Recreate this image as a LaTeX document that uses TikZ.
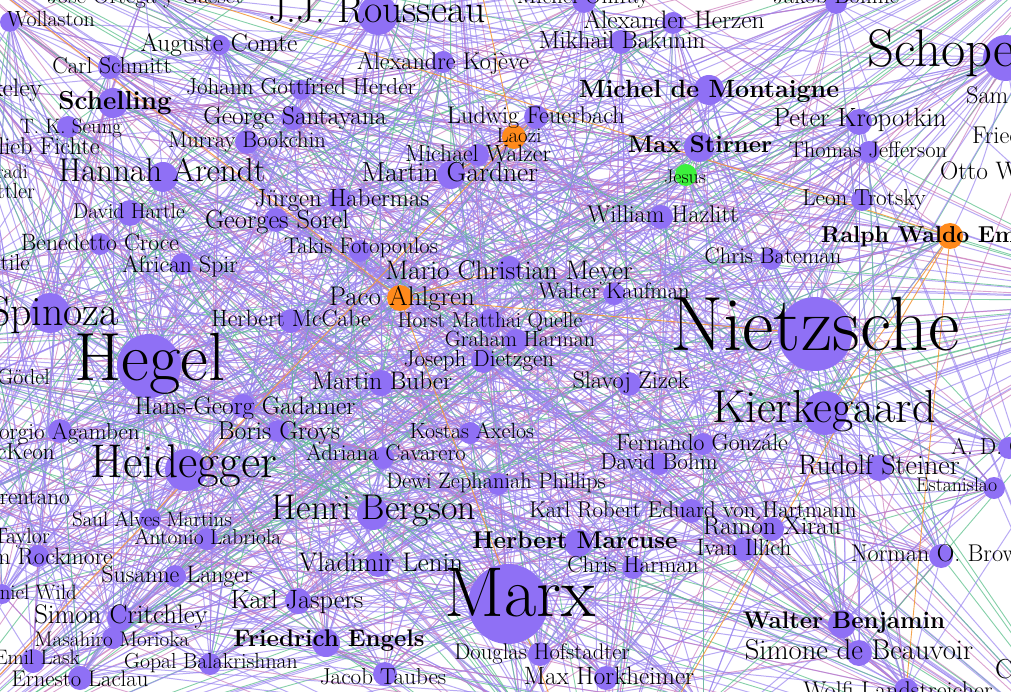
\documentclass[tikz,border=0pt]{standalone}
\definecolor{nodeviolet}{HTML}{8F70F5}
\definecolor{nodeorange}{HTML}{FF8A1C}
\definecolor{nodegreen}{HTML}{3CF03C}
\definecolor{tieviolet}{HTML}{9B86F0}
\definecolor{tiegreen}{HTML}{5CC08C}
\definecolor{tiepink}{HTML}{C873B8}
\definecolor{tieorange}{HTML}{F39A3A}
\pgfdeclarelayer{ties}
\pgfsetlayers{ties,main}

\begin{document}
\begin{tikzpicture}[x=1pt,y=-1pt,
  phil/.style={circle,fill=nodeviolet,inner sep=0pt,minimum size=#1},
  lab/.style={font={\pgfmathsetmacro\fsz{1.1*#1}\fontsize{\fsz}{\fsz}\selectfont},inner sep=0pt,anchor=base,yshift=-0.29*#1},
  blab/.style={font={\fontsize{#1}{#1}\selectfont\bfseries},inner sep=0pt,anchor=base,yshift=-0.29*#1},
  tie/.style={tieviolet,line width=1pt,opacity=0.7},
  gtie/.style={tiegreen,line width=0.9pt,opacity=0.75},
  ptie/.style={tiepink,line width=0.9pt,opacity=0.65},
  otie/.style={tieorange,line width=0.9pt,opacity=0.9},
]
  \useasboundingbox (0,0) rectangle (1011,692);

  % off-page ends
  \coordinate (out-nw) at (-120,-100);
  \coordinate (out-n) at (450,-150);
  \coordinate (out-ne) at (1130,-110);
  \coordinate (out-e) at (1160,300);
  \coordinate (out-se) at (1130,800);
  \coordinate (out-s) at (600,830);
  \coordinate (out-sw) at (-120,800);
  \coordinate (out-w) at (-160,350);

  % philosophers
  \node[phil=18pt] (ortega) at (145,-8) {};
  \node[phil=20pt] (wollaston) at (10,22) {};
  \node[phil=40pt] (rousseau) at (378,15) {};
  \node[phil=24pt] (onfray) at (584,1) {};
  \node[phil=22pt] (herzen) at (673,23) {};
  \node[phil=22pt] (bohme) at (836,3) {};
  \node[phil=20pt] (comte) at (220,45) {};
  \node[phil=24pt] (bakunin) at (621,42) {};
  \node[phil=46pt] (schopenhauer) at (1006,58) {};
  \node[phil=22pt] (kojeve) at (443,62) {};
  \node[phil=24pt] (schmitt) at (110,67) {};
  \node[phil=18pt] (berkeley) at (-12,90) {};
  \node[phil=20pt] (herder) at (301,90) {};
  \node[phil=30pt] (montaigne) at (709,90) {};
  \node[phil=30pt] (schelling) at (113,103) {};
  \node[phil=24pt] (santayana) at (293,118) {};
  \node[phil=24pt] (feuerbach) at (536,117) {};
  \node[phil=26pt] (kropotkin) at (859,122) {};
  \node[phil=22pt] (seung) at (68,127) {};
  \node[phil=24pt,fill=nodeorange] (laozi) at (514,137) {};
  \node[phil=24pt] (bookchin) at (247,142) {};
  \node[phil=30pt] (stirner) at (699,147) {};
  \node[phil=20pt] (fichte) at (-15,148) {};
  \node[phil=22pt] (walzer) at (478,155) {};
  \node[phil=22pt] (jefferson) at (869,152) {};
  \node[phil=30pt] (arendt) at (163,177) {};
  \node[phil=28pt] (gardner) at (451,175) {};
  \node[phil=22pt,fill=nodegreen] (jesus) at (686,175) {};
  \node[phil=24pt] (habermas) at (340,200) {};
  \node[phil=22pt] (trotsky) at (862,200) {};
  \node[phil=26pt] (hartle) at (130,213) {};
  \node[phil=24pt] (hazlitt) at (661,217) {};
  \node[phil=24pt] (sorel) at (276,220) {};
  \node[phil=26pt,fill=nodeorange] (emerson) at (950,236) {};
  \node[phil=22pt] (croce) at (100,244) {};
  \node[phil=22pt] (fotopoulos) at (360,251) {};
  \node[phil=22pt] (bateman) at (771,259) {};
  \node[phil=18pt] (gentile) at (-25,264) {};
  \node[phil=22pt] (spir) at (182,264) {};
  \node[phil=24pt] (meyer) at (509,268) {};
  \node[phil=26pt,fill=nodeorange] (ahlgren) at (400,298) {};
  \node[phil=22pt] (kaufman) at (614,294) {};
  \node[phil=40pt] (spinoza) at (50,313) {};
  \node[phil=24pt] (mccabe) at (291,321) {};
  \node[phil=24pt] (quelle) at (490,321) {};
  \node[phil=74pt] (nietzsche) at (815,334) {};
  \node[phil=24pt] (harman) at (516,341) {};
  \node[phil=64pt] (hegel) at (149,366) {};
  \node[phil=24pt] (dietzgen) at (483,361) {};
  \node[phil=18pt] (godel) at (-20,379) {};
  \node[phil=26pt] (buber) at (381,383) {};
  \node[phil=24pt] (zizek) at (629,384) {};
  \node[phil=24pt] (gadamer) at (243,406) {};
  \node[phil=44pt] (kierkegaard) at (825,413) {};
  \node[phil=24pt] (agamben) at (60,431) {};
  \node[phil=22pt] (groys) at (278,431) {};
  \node[phil=22pt] (axelos) at (470,433) {};
  \node[phil=22pt] (gonzale) at (703,444) {};
  \node[phil=22pt] (adc) at (1009,448) {};
  \node[phil=18pt] (mckeon) at (-20,453) {};
  \node[phil=22pt] (cavarero) at (383,458) {};
  \node[phil=42pt] (heidegger) at (186,470) {};
  \node[phil=22pt] (bohm) at (659,464) {};
  \node[phil=26pt] (steiner) at (879,468) {};
  \node[phil=22pt] (dewi) at (498,484) {};
  \node[phil=22pt] (estanislao) at (994,488) {};
  \node[phil=18pt] (brentano) at (-30,498) {};
  \node[phil=32pt] (bergson) at (373,514) {};
  \node[phil=24pt] (hartmann) at (691,511) {};
  \node[phil=22pt] (martins) at (150,519) {};
  \node[phil=24pt] (xirau) at (772,529) {};
  \node[phil=18pt] (taylor) at (-40,538) {};
  \node[phil=22pt] (labriola) at (207,539) {};
  \node[phil=28pt] (marcuse) at (578,543) {};
  \node[phil=24pt] (illich) at (744,549) {};
  \node[phil=24pt] (brown) at (941,556) {};
  \node[phil=22pt] (rockmore) at (38,556) {};
  \node[phil=26pt] (lenin) at (378,564) {};
  \node[phil=22pt] (harmanc) at (633,568) {};
  \node[phil=22pt] (langer) at (175,576) {};
  \node[phil=20pt] (wild) at (2,594) {};
  \node[phil=80pt] (marx) at (508,604) {};
  \node[phil=26pt] (jaspers) at (298,601) {};
  \node[phil=26pt] (critchley) at (120,618) {};
  \node[phil=28pt] (benjamin) at (842,624) {};
  \node[phil=22pt] (morioka) at (113,638) {};
  \node[phil=28pt] (engels) at (326,643) {};
  \node[phil=24pt] (hofstadter) at (540,654) {};
  \node[phil=26pt] (beauvoir) at (859,653) {};
  \node[phil=24pt] (lask) at (33,661) {};
  \node[phil=22pt] (balakrishnan) at (210,664) {};
  \node[phil=24pt] (horkheimer) at (606,678) {};
  \node[phil=24pt] (taubes) at (385,674) {};
  \node[phil=24pt] (laclau) at (80,678) {};
  \node[phil=24pt] (landstreicher) at (906,690) {};
  \node[phil=24pt] (levistrauss) at (520,708) {};
  \node[phil=24pt] (fromm) at (703,708) {};

  \def\names{{"ortega","wollaston","rousseau","onfray","herzen","bohme","comte","bakunin","schopenhauer","kojeve","schmitt","berkeley","herder","montaigne","schelling","santayana","feuerbach","kropotkin","seung","laozi","bookchin","stirner","fichte","walzer","jefferson","arendt","gardner","jesus","habermas","trotsky","hartle","hazlitt","sorel","emerson","croce","fotopoulos","bateman","gentile","spir","meyer","ahlgren","kaufman","spinoza","mccabe","quelle","nietzsche","harman","hegel","dietzgen","godel","buber","zizek","gadamer","kierkegaard","agamben","groys","axelos","gonzale","adc","mckeon","cavarero","heidegger","bohm","steiner","dewi","estanislao","brentano","bergson","hartmann","martins","xirau","taylor","labriola","marcuse","illich","brown","rockmore","lenin","harmanc","langer","wild","marx","jaspers","critchley","benjamin","morioka","engels","hofstadter","beauvoir","lask","balakrishnan","horkheimer","taubes","laclau","landstreicher","levistrauss","fromm"}}
  \def\outs{{"out-nw","out-n","out-ne","out-e","out-se","out-s","out-sw","out-w"}}
  \pgfmathtruncatemacro\nn{dim(\names)}
  \pgfmathtruncatemacro\last{\nn-1}

  \begin{pgfonlayer}{ties}
    \fill[white] (0,0) rectangle (1011,692);
    % hubs
    \foreach \b in {spinoza,schelling,arendt,fichte,croce,spir,gentile,godel,gadamer,agamben,mckeon,heidegger,groys,martins,brentano,taylor,mccabe,hartle,seung,schmitt,comte,herder,rousseau,kojeve,marx,engels,kierkegaard,nietzsche,bergson,buber,lenin,dietzgen,labriola,fotopoulos,sorel,habermas,rockmore,critchley,wild,lask,laclau,jaspers,harman,zizek,feuerbach,santayana}
      \draw[tie] (hegel) to[bend left=8] (\b);
    \foreach \b in {kierkegaard,schopenhauer,montaigne,stirner,kaufman,emerson,bateman,trotsky,hazlitt,jefferson,kropotkin,meyer,zizek,gonzale,steiner,bohm,hartmann,xirau,illich,brown,benjamin,beauvoir,marcuse,harmanc,quelle,ahlgren,jesus,laozi,herzen,bakunin,onfray,bohme,heidegger,spinoza,rousseau,marx,bergson,adc,estanislao,landstreicher,hofstadter,horkheimer,dietzgen,harman,walzer,gardner}
      \draw[tie] (nietzsche) to[bend left=8] (\b);
    \foreach \b in {engels,lenin,marcuse,horkheimer,hofstadter,harmanc,benjamin,beauvoir,jaspers,taubes,bergson,labriola,dietzgen,axelos,cavarero,dewi,hartmann,illich,xirau,kierkegaard,feuerbach,bakunin,balakrishnan,laclau,critchley,langer,groys,gadamer,levistrauss,fromm}
      \draw[tie] (marx) to[bend left=8] (\b);
    \foreach \b in {heidegger,jaspers,buber,gonzale,bohm,steiner,brown,beauvoir,hartmann,xirau,benjamin,zizek,kaufman,meyer,schopenhauer,adc,estanislao,landstreicher,fromm}
      \draw[tie] (kierkegaard) to[bend left=8] (\b);
    \foreach \b in {arendt,gadamer,agamben,groys,martins,brentano,taylor,rockmore,wild,critchley,morioka,lask,laclau,langer,jaspers,bergson,buber,cavarero,labriola,mckeon,balakrishnan}
      \draw[tie] (heidegger) to[bend left=8] (\b);
    \foreach \b in {berkeley,fichte,gentile,seung,wollaston,schelling,godel,croce,hartle,ortega,mckeon,comte}
      \draw[tie] (spinoza) to[bend left=8] (\b);
    \foreach \b in {comte,herder,kojeve,santayana,onfray,bakunin,herzen,montaigne,arendt,schmitt,bookchin,ortega,jefferson,hazlitt,stirner,feuerbach}
      \draw[tie] (rousseau) to[bend left=8] (\b);
    \foreach \b in {bohme,kropotkin,jefferson,emerson,montaigne,herzen,trotsky,stirner}
      \draw[tie] (schopenhauer) to[bend left=8] (\b);
    % the rest of the web
    \foreach \i in {0,...,\last} {
      \foreach \k/\st in {7/tie,13/tie,19/tie,26/tie,31/ptie,39/tie,44/tie,58/gtie,71/tie,84/ptie} {
        \pgfmathtruncatemacro\j{mod(\i+\k,\nn)}
        \pgfmathparse{\names[\i]}\edef\a{\pgfmathresult}
        \pgfmathparse{\names[\j]}\edef\b{\pgfmathresult}
        \draw[\st] (\a) -- (\b);
      }
      \foreach \k/\st in {1/tie,4/tie,6/ptie,3/gtie} {
        \pgfmathtruncatemacro\j{mod(\i*3+\k,8)}
        \pgfmathparse{\names[\i]}\edef\a{\pgfmathresult}
        \pgfmathparse{\outs[\j]}\edef\b{\pgfmathresult}
        \draw[\st] (\a) -- (\b);
      }
    }
    \foreach \a/\b in {jesus/stirner,jesus/out-ne,jesus/benjamin,gadamer/zizek,buber/kojeve}
      \draw[gtie] (\a) -- (\b);
    \foreach \a/\b in {ahlgren/out-s,ahlgren/meyer,ahlgren/nietzsche,ahlgren/out-nw,laozi/out-n,laozi/feuerbach,laozi/gardner,laozi/out-sw,emerson/out-s,emerson/kierkegaard,emerson/out-nw,emerson/landstreicher}
      \draw[otie] (\a) -- (\b);
  \end{pgfonlayer}

  % names
  \node[lab=21] (ortega-t) at (145,-3) {José Ortega y Gasset};
  \node[lab=20] (wollaston-t) at (51,21) {Wollaston};
  \node[lab=36] (rousseau-t) at (377,12) {J.J. Rousseau};
  \node[lab=21] (onfray-t) at (583,-3) {Michel Onfray};
  \node[lab=23] (herzen-t) at (674,22) {Alexander Herzen};
  \node[lab=21] (bohme-t) at (836,-3) {Jakob Böhme};
  \node[lab=23] (comte-t) at (219,45) {Auguste Comte};
  \node[lab=22.5] (bakunin-t) at (622,42) {Mikhail Bakunin};
  \node[lab=48,anchor=base west] (schopenhauer-t) at (867,53) {Schopenhauer};
  \node[lab=22] (kojeve-t) at (443,63) {Alexandre Kojève};
  \node[lab=21] (schmitt-t) at (112,67) {Carl Schmitt};
  \node[lab=23,anchor=base east] (berkeley-t) at (42,90) {Berkeley};
  \node[lab=21] (herder-t) at (301,88) {Johann Gottfried Herder};
  \node[blab=25] (montaigne-t) at (709,90) {Michel de Montaigne};
  \node[lab=22,anchor=base west] (sam-t) at (966,97) {Sam};
  \node[blab=26] (schelling-t) at (115,102) {Schelling};
  \node[lab=23] (santayana-t) at (295,118) {George Santayana};
  \node[lab=22] (feuerbach-t) at (536,117) {Ludwig Feuerbach};
  \node[lab=24] (kropotkin-t) at (860,120) {Peter Kropotkin};
  \node[lab=19] (seung-t) at (71,128) {T. K. Seung};
  \node[lab=19] (laozi-t) at (519,137) {Laozi};
  \node[lab=22,anchor=base west] (frie-t) at (972,137) {Friedrich};
  \node[lab=20.5] (bookchin-t) at (247,142) {Murray Bookchin};
  \node[blab=24] (stirner-t) at (700,146) {Max Stirner};
  \node[lab=22,anchor=base east] (fichte-t) at (100,148) {Johann Gottlieb Fichte};
  \node[lab=21.5] (walzer-t) at (478,155) {Michael Walzer};
  \node[lab=20.5] (jefferson-t) at (868,152) {Thomas Jefferson};
  \node[lab=18,anchor=base east] (radi-t) at (28,173) {radi};
  \node[lab=30] (arendt-t) at (162,173) {Hannah Arendt};
  \node[lab=25] (gardner-t) at (450,174) {Martin Gardner};
  \node[lab=18] (jesus-t) at (685,178) {Jesus};
  \node[lab=23,anchor=base west] (otto-t) at (940,173) {Otto Weininger};
  \node[lab=20,anchor=base east] (ttler-t) at (35,193) {ttler};
  \node[lab=22.5] (habermas-t) at (342,200) {Jürgen Habermas};
  \node[lab=21] (trotsky-t) at (864,199) {Leon Trotsky};
  \node[lab=19.5] (hartle-t) at (129,213) {David Hartle};
  \node[lab=22] (hazlitt-t) at (663,216) {William Hazlitt};
  \node[lab=24] (sorel-t) at (277,222) {Georges Sorel};
  \node[blab=23,anchor=base west] (emerson-t) at (821,236) {Ralph Waldo Emerson};
  \node[lab=21.5] (croce-t) at (100,244) {Benedetto Croce};
  \node[lab=20.5] (fotopoulos-t) at (361,248) {Takis Fotopoulos};
  \node[lab=20.5] (bateman-t) at (773,258) {Chris Bateman};
  \node[lab=21,anchor=base east] (gentile-t) at (30,264) {Giovanni Gentile};
  \node[lab=21.5] (spir-t) at (180,266) {African Spir};
  \node[lab=24.5] (meyer-t) at (509,272) {Mario Christian Meyer};
  \node[lab=24.5] (ahlgren-t) at (402,298) {Paco Ahlgren};
  \node[lab=20.5] (kaufman-t) at (614,293) {Walter Kaufman};
  \node[lab=38] (spinoza-t) at (54,314) {Spinoza};
  \node[lab=21.5] (mccabe-t) at (291,320) {Herbert McCabe};
  \node[lab=19.5] (quelle-t) at (490,322) {Horst Matthai Quelle};
  \node[lab=70] (nietzsche-t) at (815,330) {Nietzsche};
  \node[lab=20] (harman-t) at (520,341) {Graham Harman};
  \node[lab=62] (hegel-t) at (150,363) {Hegel};
  \node[lab=21] (dietzgen-t) at (479,360) {Joseph Dietzgen};
  \node[lab=20,anchor=base east] (godel-t) at (50,379) {Kurt Gödel};
  \node[lab=23] (buber-t) at (382,383) {Martin Buber};
  \node[lab=22] (zizek-t) at (631,382) {Slavoj Zizek};
  \node[lab=23] (gadamer-t) at (245,408) {Hans-Georg Gadamer};
  \node[lab=42] (kierkegaard-t) at (824,410) {Kierkegaard};
  \node[lab=21,anchor=base east] (agamben-t) at (140,433) {Giorgio Agamben};
  \node[lab=23.5] (groys-t) at (279,433) {Boris Groys};
  \node[lab=20] (axelos-t) at (472,433) {Kostas Axelos};
  \node[lab=21.5] (gonzale-t) at (702,444) {Fernando Gonzále};
  \node[lab=21,anchor=base west] (adc-t) at (951,448) {A. D. C};
  \node[lab=21,anchor=base east] (mckeon-t) at (55,453) {Richard McKeon};
  \node[lab=20.5] (cavarero-t) at (386,455) {Adriana Cavarero};
  \node[lab=43] (heidegger-t) at (184,465) {Heidegger};
  \node[lab=21] (bohm-t) at (659,463) {David Bohm};
  \node[lab=25.5] (steiner-t) at (879,467) {Rudolf Steiner};
  \node[lab=20.3] (dewi-t) at (496,483) {Dewi Zephaniah Phillips};
  \node[lab=18,anchor=base west] (estanislao-t) at (916,486) {Estanislao};
  \node[lab=21,anchor=base east] (brentano-t) at (70,498) {Franz Brentano};
  \node[lab=32.5] (bergson-t) at (374,510) {Henri Bergson};
  \node[lab=20.8] (hartmann-t) at (693,511) {Karl Robert Eduard von Hartmann};
  \node[lab=19] (martins-t) at (152,521) {Saul Alves Martins};
  \node[lab=23] (xirau-t) at (772,528) {Ramón Xirau};
  \node[lab=20,anchor=base east] (taylor-t) at (50,538) {Charles Taylor};
  \node[lab=19.5] (labriola-t) at (208,539) {Antonio Labriola};
  \node[blab=24.3] (marcuse-t) at (575,541) {Herbert Marcuse};
  \node[lab=21.5] (illich-t) at (744,549) {Ivan Illich};
  \node[lab=22] (brown-t) at (941,555) {Norman O. Brown};
  \node[lab=21.5,anchor=base east] (rockmore-t) at (113,558) {Tom Rockmore};
  \node[lab=24.5] (lenin-t) at (381,564) {Vladimir Lenin};
  \node[lab=21] (harmanc-t) at (633,566) {Chris Harman};
  \node[lab=21.7] (langer-t) at (177,576) {Susanne Langer};
  \node[lab=19,anchor=base east] (wild-t) at (77,594) {John Daniel Wild};
  \node[lab=64] (marx-t) at (520,598) {Marx};
  \node[lab=24] (jaspers-t) at (297,602) {Karl Jaspers};
  \node[lab=24.4] (critchley-t) at (121,616) {Simon Critchley};
  \node[blab=24] (benjamin-t) at (844,622) {Walter Benjamin};
  \node[lab=19.2] (morioka-t) at (112,641) {Masahiro Morioka};
  \node[blab=24] (engels-t) at (329,640) {Friedrich Engels};
  \node[lab=20.6] (hofstadter-t) at (542,654) {Douglas Hofstadter};
  \node[lab=26] (beauvoir-t) at (859,652) {Simone de Beauvoir};
  \node[lab=19,anchor=base east] (lask-t) at (80,659) {Emil Lask};
  \node[lab=19.8] (balakrishnan-t) at (211,663) {Gopal Balakrishnan};
  \node[lab=25,anchor=base west] (cfrag-t) at (995,671) {C};
  \node[lab=22.8] (horkheimer-t) at (609,678) {Max Horkheimer};
  \node[lab=21] (taubes-t) at (383,678) {Jacob Taubes};
  \node[lab=20.6] (laclau-t) at (80,681) {Ernesto Laclau};
  \node[lab=22] (landstreicher-t) at (898,692) {Wolfi Landstreicher};
  \node[lab=22] (levistrauss-t) at (520,703) {Claude Lévi-Strauss};
  \node[lab=22] (fromm-t) at (703,703) {Erich Fromm};
\end{tikzpicture}
\end{document}
